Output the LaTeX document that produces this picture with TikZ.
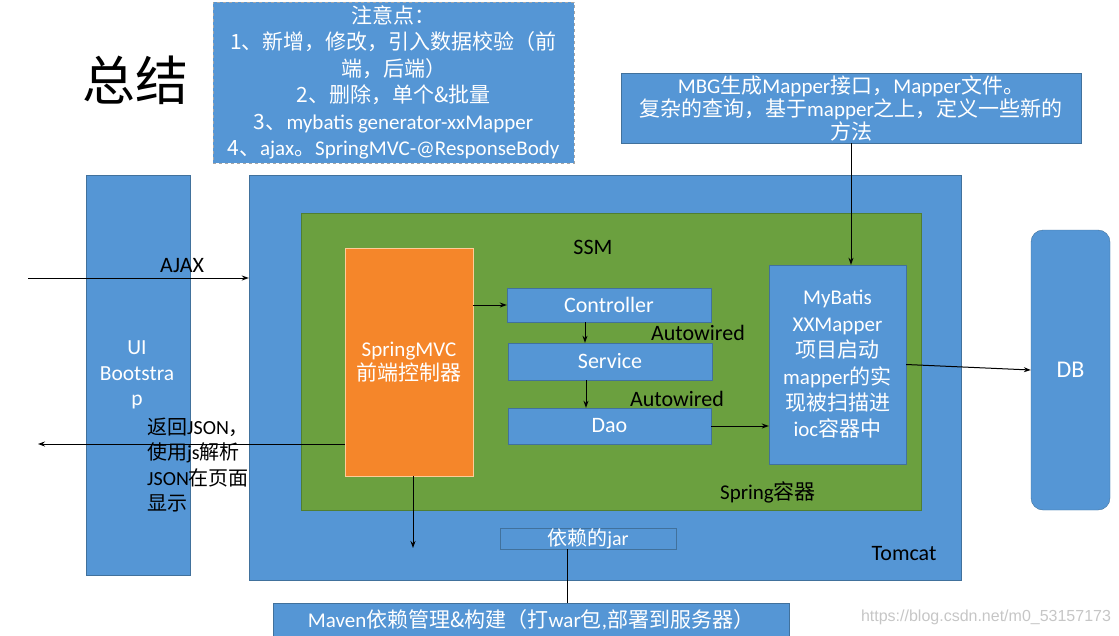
\documentclass[tikz,border=0pt]{standalone}
\usepackage{fontspec}
\setmainfont{Noto Sans CJK SC}
\newfontfamily\latinfont{Carlito}
\newfontfamily\markfont{Liberation Sans}
\newcommand\lat[1]{{\latinfont #1}}
\usepackage{tikz}
\usetikzlibrary{arrows.meta, positioning, calc}
\definecolor{PPTblue}{HTML}{5596D5}
\definecolor{PPTedge}{HTML}{41719C}
\definecolor{PPTgreen}{HTML}{6BA03F}
\definecolor{PPTgreenedge}{HTML}{507E32}
\definecolor{PPTorange}{HTML}{F5862A}
\tikzset{
  bluebox/.style={draw=PPTedge, fill=PPTblue, text=white, align=center,
    inner sep=0pt, font=\fontsize{21}{26.5}\selectfont},
  greenbox/.style={draw=PPTgreenedge, fill=PPTgreen, inner sep=0pt},
  orangebox/.style={draw=orange!40, fill=PPTorange, text=white, align=center,
    inner sep=0pt, font=\fontsize{21}{24}\selectfont},
  blacklabel/.style={text=black, font=\latinfont\fontsize{22}{24}\selectfont, inner sep=0pt},
  flow/.style={-{Stealth[length=7pt,width=5pt]}, black, line width=1pt},
}
\begin{document}
\begin{tikzpicture}[x=1pt, y=-1pt]
  \useasboundingbox (0,0) rectangle (1119,635);

  % title and notes
  \node[inner sep=0pt, font=\fontsize{53}{53}\selectfont] (title) at (135,80) {总结};
  \node[bluebox, draw=gray!70, dashed, minimum width=361pt, minimum height=161pt] (notes) at (393.5,82.5)
    {注意点：\\1、新增，修改，引入数据校验（前\\端，后端）\\2、删除，单个\&批量\\3、\lat{mybatis generator-xxMapper}\\4、\lat{ajax}。\lat{SpringMVC-@ResponseBody}};
  \node[bluebox, minimum width=460pt, minimum height=70pt,
    font=\fontsize{21}{23}\selectfont] (mbg) at (851,108)
    {\lat{MBG}生成\lat{Mapper}接口，\lat{Mapper}文件。\\复杂的查询，基于\lat{mapper}之上，定义一些新的\\方法};

  % front end and server
  \node[bluebox, minimum width=104pt, minimum height=400pt] (ui) at (138,375) {};
  \node[text=white, align=center, inner sep=0pt, font=\latinfont\fontsize{21.5}{25.5}\selectfont]
    (uitext) at (137,375) {UI\\Bootstra\\p};
  \node[bluebox, minimum width=712pt, minimum height=405pt] (tomcat) at (605,377.5) {};
  \node[blacklabel] (tomcatlabel) at (904,554) {Tomcat};

  % spring container
  \node[greenbox, minimum width=620pt, minimum height=297pt] (spring) at (611,361.5) {};
  \node[blacklabel] (ssm) at (593,247) {SSM};
  \node[inner sep=0pt, font=\fontsize{21}{22}\selectfont] (springlabel) at (768,492) {\lat{Spring}容器};

  \node[orangebox, minimum width=128pt, minimum height=228pt] (mvc) at (409,362)
    {\lat{SpringMVC}\\前端控制器};
  \node[bluebox, font=\latinfont\fontsize{22}{24}\selectfont, minimum width=204pt, minimum height=34pt] (ctrl) at (609,305) {Controller};
  \node[bluebox, font=\latinfont\fontsize{22}{24}\selectfont, minimum width=204pt, minimum height=37pt] (svc) at (610,361.5) {Service};
  \node[bluebox, font=\latinfont\fontsize{22}{24}\selectfont, minimum width=203pt, minimum height=36pt] (dao) at (609.5,426) {Dao};
  \node[bluebox, minimum width=137pt, minimum height=199pt, font=\fontsize{21}{26.4}\selectfont]
    (mybatis) at (837.5,364.5)
    {\lat{MyBatis}\\\lat{XXMapper}\\项目启动\\\lat{mapper}的实\\现被扫描进\\\lat{ioc}容器中};

  % database
  \node[bluebox, rounded corners=12pt, minimum width=79pt, minimum height=280pt,
    font=\latinfont\fontsize{24}{26}\selectfont] (db) at (1070.5,370) {DB};

  % maven
  \node[bluebox, minimum width=176pt, minimum height=21pt, font=\fontsize{20}{21}\selectfont] (jar) at (588,538.5) {依赖的\lat{jar}};
  \node[bluebox, minimum width=516pt, minimum height=33pt] (maven) at (531,619.5)
    {\lat{Maven}依赖管理\&构建（打\lat{war}包\lat{,}部署到服务器）};

  % request and response
  \coordinate (ajaxstart) at (28,278);
  \draw[flow] (ajaxstart) -- (ajaxstart -| tomcat.west);
  \node[blacklabel] (ajax) at (182,266) {AJAX};
  \coordinate (retend) at (38,444);
  \draw[flow] (mvc.west |- retend) -- (retend);
  \node[align=left, anchor=north west, inner sep=0pt, font=\fontsize{20}{25.3}\selectfont]
    (jsonnote) at (147,418) {返回\lat{JSON}，\\使用\lat{js}解析\\\lat{JSON}在页面\\显示};

  % connectors inside the container
  \draw[flow] (mvc.east |- ctrl.west) -- (ctrl.west);
  \draw[flow] ([xshift=-24pt]ctrl.south) -- ([xshift=-24pt]ctrl.south |- svc.north);
  \node[blacklabel] (autowired1) at (698,333) {Autowired};
  \draw[flow] ([xshift=-24pt]svc.south) -- ([xshift=-24pt]svc.south |- dao.north);
  \node[blacklabel] (autowired2) at (677,399) {Autowired};
  \draw[flow] (dao.east) -- (dao.east -| mybatis.west);
  \draw[flow] (mybatis.east) -- (db.west);
  \draw[flow] (mbg.south) -- (mbg.south |- mybatis.north);
  \coordinate (mvcdown) at (413,548);
  \draw[flow] (mvc.south -| mvcdown) -- (mvcdown);
  \draw[black, line width=1pt] ([xshift=-21pt]jar.south) -- ([xshift=-21pt]jar.south |- maven.north);

  % watermark
  \node[text=gray!45, inner sep=0pt, font=\markfont\fontsize{16}{16}\selectfont] (mark) at (986,617)
    {https://blog.csdn.net/m0\_53157173};
\end{tikzpicture}
\end{document}
